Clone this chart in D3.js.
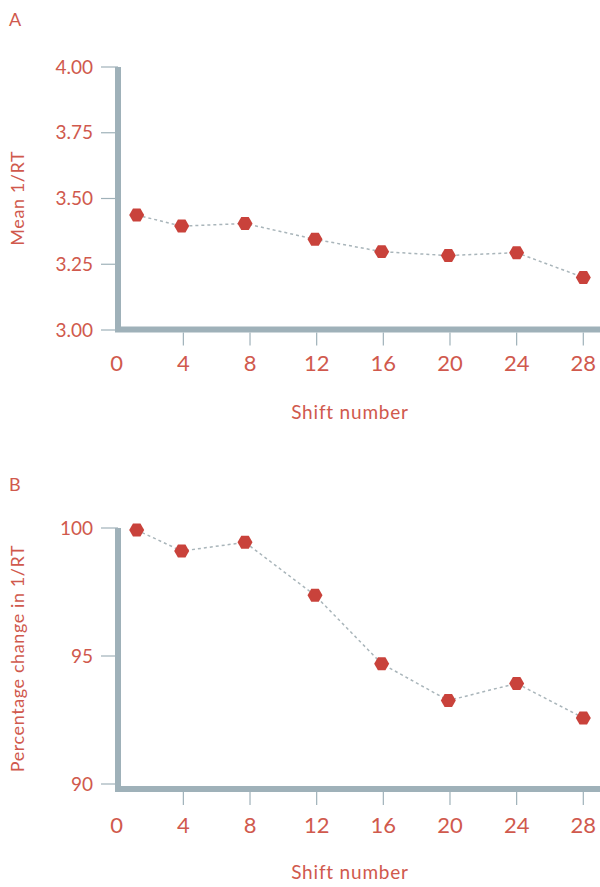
<!DOCTYPE html>
<html>
<head>
<meta charset="utf-8">
<script src="https://cdn.jsdelivr.net/npm/d3@7"></script>
<style>
  html, body { margin: 0; padding: 0; background: #fff; }
  svg { display: block; }
  text { font-family: Lato, "Open Sans", sans-serif; fill: #d0594d; font-weight: 400; }
</style>
</head>
<body>
<svg id="chart" width="600" height="887"></svg>
<script>
// ---- data ----
const shifts = [1.2, 3.9, 7.7, 11.9, 15.9, 19.9, 24, 28];
const meanInvRT = [3.437, 3.395, 3.405, 3.345, 3.298, 3.283, 3.294, 3.200];
const pctChange = [99.92, 99.10, 99.44, 97.37, 94.70, 93.26, 93.93, 92.58];
const xTicks = [0, 4, 8, 12, 16, 20, 24, 28];
const yTicksA = [3.00, 3.25, 3.50, 3.75, 4.00];
const yTicksB = [90, 95, 100];

// ---- style ----
const AXIS = "#9fb1b9";
const MARK = "#c9423b";
const LINE = "#a9b5ba";

const svg = d3.select("#chart");

const panels = [
  { letter: "A", letterY: 26, ys: meanInvRT, domain: [3, 4], range: [330, 67], axisY: 329.5,
    ticks: yTicksA, fmt: d3.format(".2f"), ylabel: "Mean 1/RT", xLabelY: 363, titleY: 419 },
  { letter: "B", letterY: 491, ys: pctChange, domain: [90, 100], range: [784, 528], axisY: 789,
    ticks: yTicksB, fmt: d3.format("d"), ylabel: "Percentage change in 1/RT", xLabelY: 825, titleY: 879 }
];

const x = d3.scaleLinear().domain([0, 28]).range([116.7, 583.3]);
const axisX = 118;

panels.forEach(p => {
  const y = d3.scaleLinear().domain(p.domain).range(p.range);
  const g = svg.append("g");

  g.append("text").attr("x", 9).attr("y", p.letterY)
    .attr("font-size", 18).text(p.letter);

  // y ticks
  g.selectAll(".yt").data(p.ticks).enter().append("line")
    .attr("x1", 101).attr("x2", axisX).attr("y1", d => y(d)).attr("y2", d => y(d))
    .attr("stroke", AXIS).attr("stroke-width", 1.2);
  g.selectAll(".yl").data(p.ticks).enter().append("text")
    .attr("x", 93).attr("y", d => y(d)).attr("dy", "0.35em")
    .attr("text-anchor", "end").attr("font-size", 19)
    .text(d => p.fmt(d));

  // x ticks
  g.selectAll(".xt").data(xTicks.filter(d => d > 0)).enter().append("line")
    .attr("x1", d => x(d)).attr("x2", d => x(d))
    .attr("y1", p.axisY + 3).attr("y2", p.axisY + 16)
    .attr("stroke", AXIS).attr("stroke-width", 1.2);
  g.selectAll(".xl").data(xTicks).enter().append("text")
    .attr("x", d => x(d)).attr("y", p.xLabelY).attr("dy", "0.35em")
    .attr("text-anchor", "middle").attr("font-size", 22)
    .text(d => d);

  // axes (thick)
  g.append("path")
    .attr("d", `M${axisX},${p.range[1]} V${p.axisY} H600`)
    .attr("fill", "none").attr("stroke", AXIS).attr("stroke-width", 6)
    .attr("stroke-linejoin", "miter");

  // axis titles
  g.append("text").attr("x", 350).attr("y", p.titleY)
    .attr("text-anchor", "middle").attr("font-size", 19).attr("letter-spacing", 0.8)
    .text("Shift number");
  const cy = (p.range[1] + p.axisY) / 2;
  g.append("text")
    .attr("transform", `translate(24,${cy}) rotate(-90)`)
    .attr("text-anchor", "middle").attr("font-size", 18).attr("letter-spacing", 0.6)
    .text(p.ylabel);

  // dashed line
  const pts = shifts.map((s, i) => [s, p.ys[i]]);
  g.append("path")
    .datum(pts)
    .attr("d", d3.line().x(d => x(d[0])).y(d => y(d[1])))
    .attr("fill", "none").attr("stroke", LINE).attr("stroke-width", 1.5)
    .attr("stroke-dasharray", "3,3");

  // hexagon markers
  const r = 7.5;
  const hex = d3.range(6).map(k => [r * Math.cos(k * Math.PI / 3), r * Math.sin(k * Math.PI / 3)]);
  g.selectAll(".m").data(pts).enter().append("path")
    .attr("transform", d => `translate(${x(d[0])},${y(d[1])})`)
    .attr("d", d3.line().curve(d3.curveLinearClosed)(hex))
    .attr("fill", MARK);
});
</script>
</body>
</html>
